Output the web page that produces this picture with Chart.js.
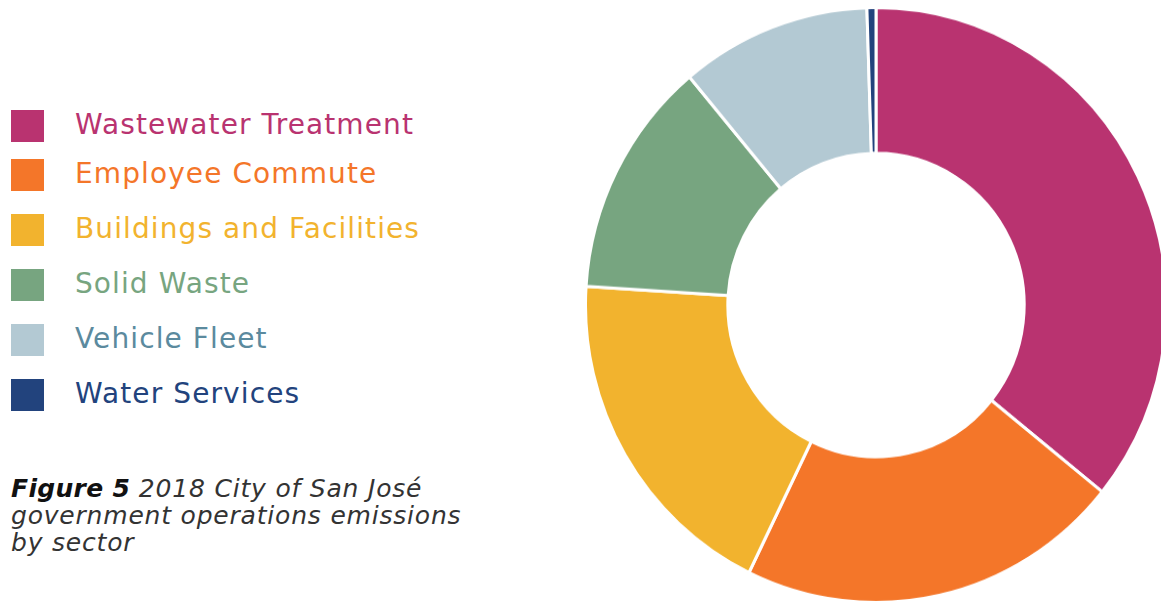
<!DOCTYPE html>
<html>
<head>
<meta charset="utf-8">
<script src="https://cdn.jsdelivr.net/npm/chart.js@4.4.0/dist/chart.umd.min.js"></script>
<style>
  html, body { margin: 0; padding: 0; background: #ffffff; width: 1161px; height: 601px; overflow: hidden; }
  #legend { position: absolute; left: 11px; top: 110px; }
  .row { position: relative; height: 32px; margin-bottom: 23px; }
  .row:first-child { margin-bottom: 17px; }
  .sw { position: absolute; left: 0; top: 0; width: 33px; height: 32px; }
  .lbl { position: absolute; left: 64px; top: 50%; transform: translateY(-52%); white-space: nowrap;
         font-family: "DejaVu Sans", sans-serif; font-size: 28px; letter-spacing: 1.1px; line-height: 1; }
  #caption { position: absolute; left: 11px; top: 475px; font-family: "DejaVu Sans", sans-serif;
             font-style: italic; font-weight: 300; font-size: 25px; letter-spacing: 0.8px; line-height: 27px; color: #333; white-space: nowrap; }
  #caption b { font-weight: 700; color: #111; letter-spacing: 0.3px; }
  #wrap { position: absolute; left: 584px; top: 6px; width: 584px; height: 584px;
          transform: scaleY(1.024); transform-origin: 0 0; }
</style>
</head>
<body>
<div id="legend"></div>
<div id="caption"><b>Figure 5</b> 2018 City of San José<br>government operations emissions<br>by sector</div>
<div id="wrap"><canvas id="c" width="584" height="584"></canvas></div>
<script>
const categories = ["Wastewater Treatment", "Employee Commute", "Buildings and Facilities", "Solid Waste", "Vehicle Fleet", "Water Services"];
const emissionsShare = [35.8, 21.4, 18.8, 12.9, 10.6, 0.5];
const sliceColors = ["#B93370", "#F47629", "#F2B32E", "#77A580", "#B3C9D3", "#22437D"];
const labelColors = ["#B93370", "#F47629", "#F2B32E", "#77A580", "#5B8A9E", "#22437D"];

const legend = document.getElementById('legend');
categories.forEach((name, i) => {
  const row = document.createElement('div');
  row.className = 'row';
  const sw = document.createElement('div');
  sw.className = 'sw';
  sw.style.background = sliceColors[i];
  const lbl = document.createElement('div');
  lbl.className = 'lbl';
  lbl.style.color = labelColors[i];
  lbl.textContent = name;
  row.appendChild(sw);
  row.appendChild(lbl);
  legend.appendChild(row);
});

new Chart(document.getElementById('c'), {
  type: 'doughnut',
  data: {
    labels: categories,
    datasets: [{
      data: emissionsShare,
      backgroundColor: sliceColors,
      borderColor: '#ffffff',
      borderWidth: 3
    }]
  },
  options: {
    responsive: false,
    animation: false,
    cutout: '51%',
    layout: { padding: 0 },
    plugins: { legend: { display: false }, tooltip: { enabled: false } }
  }
});
</script>
</body>
</html>
